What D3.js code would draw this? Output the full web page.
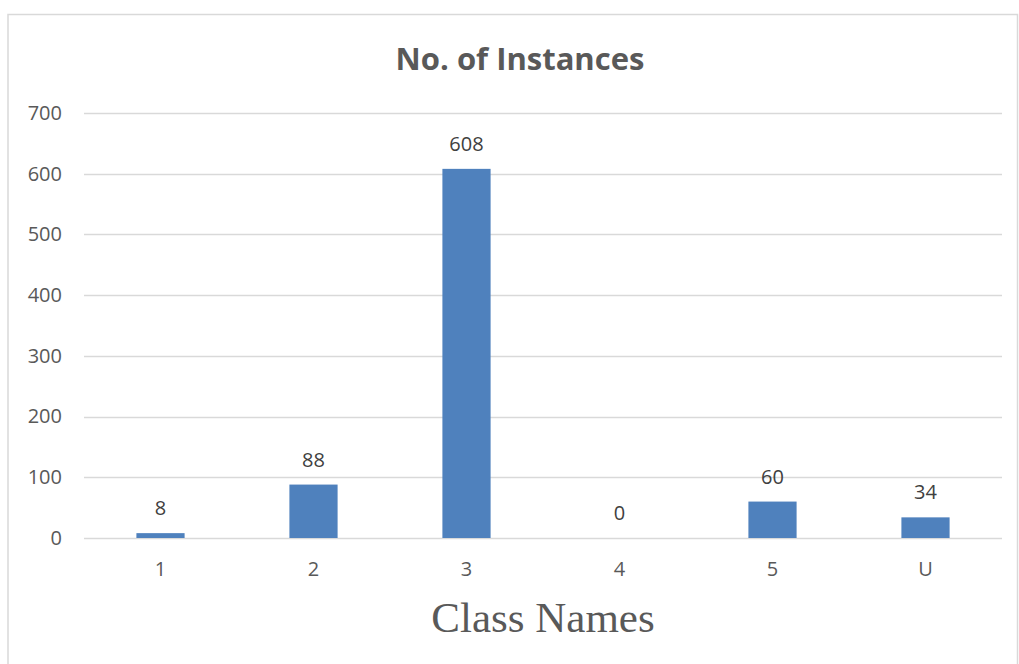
<!DOCTYPE html>
<html>
<head>
<meta charset="utf-8">
<script src="https://d3js.org/d3.v7.min.js"></script>
<style>
  body { margin: 0; background: #fff; }
  svg { display: block; }
</style>
</head>
<body>
<svg width="1019" height="664"></svg>
<script>
var classNames = ["1", "2", "3", "4", "5", "U"];
var instances = [8, 88, 608, 0, 60, 34];
var yTicks = [0, 100, 200, 300, 400, 500, 600, 700];

var svg = d3.select("svg");

// chart frame
svg.append("rect")
    .attr("x", 8).attr("y", 14.5)
    .attr("width", 1009.5).attr("height", 660)
    .style("fill", "none")
    .style("stroke", "#d9d9d9")
    .style("stroke-width", "1.5px");

var x = d3.scaleBand().domain(classNames).range([84, 1002]).paddingInner(0.685).paddingOuter(0.3425);
var y = d3.scaleLinear().domain([0, 700]).range([538, 113]);

// gridlines
svg.append("g")
    .selectAll("line")
    .data(yTicks)
    .enter()
    .append("line")
    .attr("x1", 84).attr("x2", 1002)
    .attr("y1", function(d) { return Math.round(y(d)) + 0.5; })
    .attr("y2", function(d) { return Math.round(y(d)) + 0.5; })
    .style("stroke", "#d9d9d9")
    .style("stroke-width", "1.5px");

// y axis labels
var yAxis = d3.axisLeft(y).tickValues(yTicks).tickSize(0).tickPadding(0);
svg.append("g")
    .attr("transform", "translate(62,0)")
    .call(yAxis)
    .call(function(g) { g.select(".domain").remove(); })
    .selectAll("text")
    .style("font-family", "'Open Sans', sans-serif")
    .style("font-size", "20px")
    .style("fill", "#595959");

// x axis labels
var xAxis = d3.axisBottom(x).tickSize(0).tickPadding(0);
svg.append("g")
    .attr("transform", "translate(0,562)")
    .call(xAxis)
    .call(function(g) { g.select(".domain").remove(); })
    .selectAll("text")
    .style("font-family", "'Open Sans', sans-serif")
    .style("font-size", "20px")
    .style("fill", "#595959");

// bars
svg.append("g")
    .selectAll("rect")
    .data(instances)
    .enter()
    .append("rect")
    .attr("x", function(d, i) { return x(classNames[i]); })
    .attr("width", x.bandwidth())
    .attr("y", function(d) { return y(d); })
    .attr("height", function(d) { return y(0) - y(d); })
    .style("fill", "#4f81bd");

// value labels
svg.append("g")
    .selectAll("text")
    .data(instances)
    .enter()
    .append("text")
    .attr("x", function(d, i) { return x(classNames[i]) + x.bandwidth() / 2; })
    .attr("y", function(d) { return y(d) - 18; })
    .style("text-anchor", "middle")
    .style("font-family", "'Open Sans', sans-serif")
    .style("font-size", "20px")
    .style("fill", "#404040")
    .text(function(d) { return d; });

// title
svg.append("text")
    .attr("x", 520).attr("y", 70)
    .style("text-anchor", "middle")
    .style("font-family", "'Open Sans', sans-serif")
    .style("font-weight", "bold")
    .style("font-size", "31px")
    .style("fill", "#595959")
    .text("No. of Instances");

// x axis title
svg.append("text")
    .attr("x", 543).attr("y", 632)
    .style("text-anchor", "middle")
    .style("font-family", "'Liberation Serif', 'Times New Roman', serif")
    .style("font-size", "43px")
    .style("fill", "#595959")
    .text("Class Names");
</script>
</body>
</html>
